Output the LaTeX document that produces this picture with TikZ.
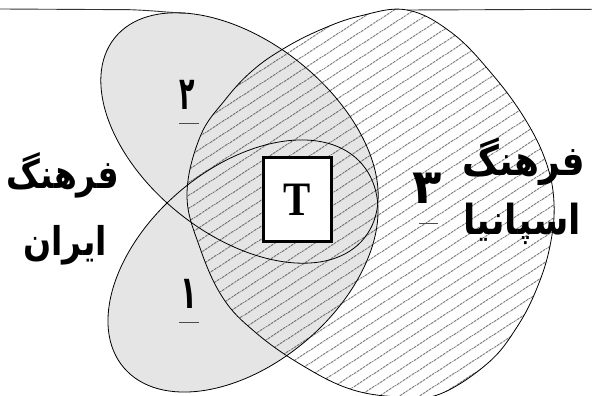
\documentclass[tikz,border=0pt]{standalone}
\usepackage{fontspec}
\usepackage{graphicx}
\usetikzlibrary{patterns.meta}
\TeXXeTstate=1
\newfontfamily\arabicfont[Script=Arabic]{DejaVu Sans}
\newfontfamily\tfont{Liberation Serif}
\definecolor{petalgray}{gray}{0.9}
\tikzset{
  outline/.style={draw=black, line width=0.8pt},
  petal/.style={fill=petalgray},
  hatch/.style={pattern={Lines[angle=33,distance=10.5pt,line width=0.65pt]}, pattern color=black!85},
  digit/.style={font=\arabicfont\bfseries\fontsize{46}{46}\selectfont, inner sep=0pt},
  culture/.style={font=\arabicfont\bfseries\fontsize{33}{36}\selectfont, inner sep=0pt},
  bigculture/.style={font=\arabicfont\bfseries\fontsize{36}{40}\selectfont, inner sep=0pt},
  tick/.style={line width=0.9pt, draw=black!70},
  tbox/.style={draw, line width=2.6pt, fill=white, minimum width=68.4pt, minimum height=84.4pt, inner sep=0pt,
    font=\tfont\bfseries\fontsize{48}{48}\selectfont},
  frame/.style={line width=0.9pt, draw=black!80}
}
\begin{document}
\begin{tikzpicture}[x=1pt,y=1pt]
\useasboundingbox (0,0) rectangle (592,396);
% gray petals
\fill[petal, rotate around={-38.7:(239.5,258)}] (239.5,258) ellipse [x radius=160pt, y radius=96.5pt];
\fill[petal, rotate around={40.5:(243,130)}] (243,130) ellipse [x radius=156.7pt, y radius=97.8pt];
% hatched big region
\path[hatch, outline] plot[smooth cycle, tension=0.65] coordinates {
  (187,201) (200,259) (225,296) (252,325) (283,347) (320,366) (360,380) (407,386)
  (452,363) (492,322) (525,277) (546,234) (554,193) (550,150) (537,108) (517,69) (488,33)
  (440,2) (400,-1) (350,7) (300,32) (255,64) (223,98) (200,148)};
% petal outlines
\draw[outline, rotate around={-38.7:(239.5,258)}] (239.5,258) ellipse [x radius=160pt, y radius=96.5pt];
\draw[outline, rotate around={40.5:(243,130)}] (243,130) ellipse [x radius=156.7pt, y radius=97.8pt];
% frame line at top
\coordinate (fl0) at (0,387);
\coordinate (fl1) at (130,386.3);
\coordinate (fl2) at (185,382.8);
\coordinate (fr0) at (407,386);
\coordinate (fr1) at (592,386.7);
\draw[frame] (fl0) -- (fl1) to[out=-2, in=177] (fl2);
\draw[frame] (fr0) -- (fr1);
% T box
\node[tbox] (T) at (297.5,196.5) {\scalebox{0.85}[1]{T}};
% digits
\node[digit] (d2) at (187.5,301) {\scalebox{0.55}[1]{\beginR ٢\endR}};
\coordinate (u2a) at (179,273); \coordinate (u2b) at (199,273);
\draw[tick] (u2a) -- (u2b);
\node[digit] (d1) at (188.5,102.5) {\scalebox{0.6}[1]{\beginR ١\endR}};
\coordinate (u1a) at (179,74); \coordinate (u1b) at (199,74);
\draw[tick] (u1a) -- (u1b);
\node[digit, font=\arabicfont\bfseries\fontsize{48}{48}\selectfont] (d3) at (427.5,207.5) {\beginR ٣\endR};
\coordinate (u3a) at (419,173); \coordinate (u3b) at (438,173);
\draw[tick] (u3a) -- (u3b);
% culture labels
\node[culture] (iran1) at (63,221) {\scalebox{1}[1.2]{\beginR فرهنگ\endR}};
\node[culture] (iran2) at (65,151) {\scalebox{1}[1.2]{\beginR ایران\endR}};
\node[bigculture] (spain1) at (524,234.5) {\scalebox{1}[1.15]{\beginR فرهنگ\endR}};
\node[bigculture] (spain2) at (522,172.5) {\scalebox{1}[1.15]{\beginR اسپانیا\endR}};
\end{tikzpicture}
\end{document}
